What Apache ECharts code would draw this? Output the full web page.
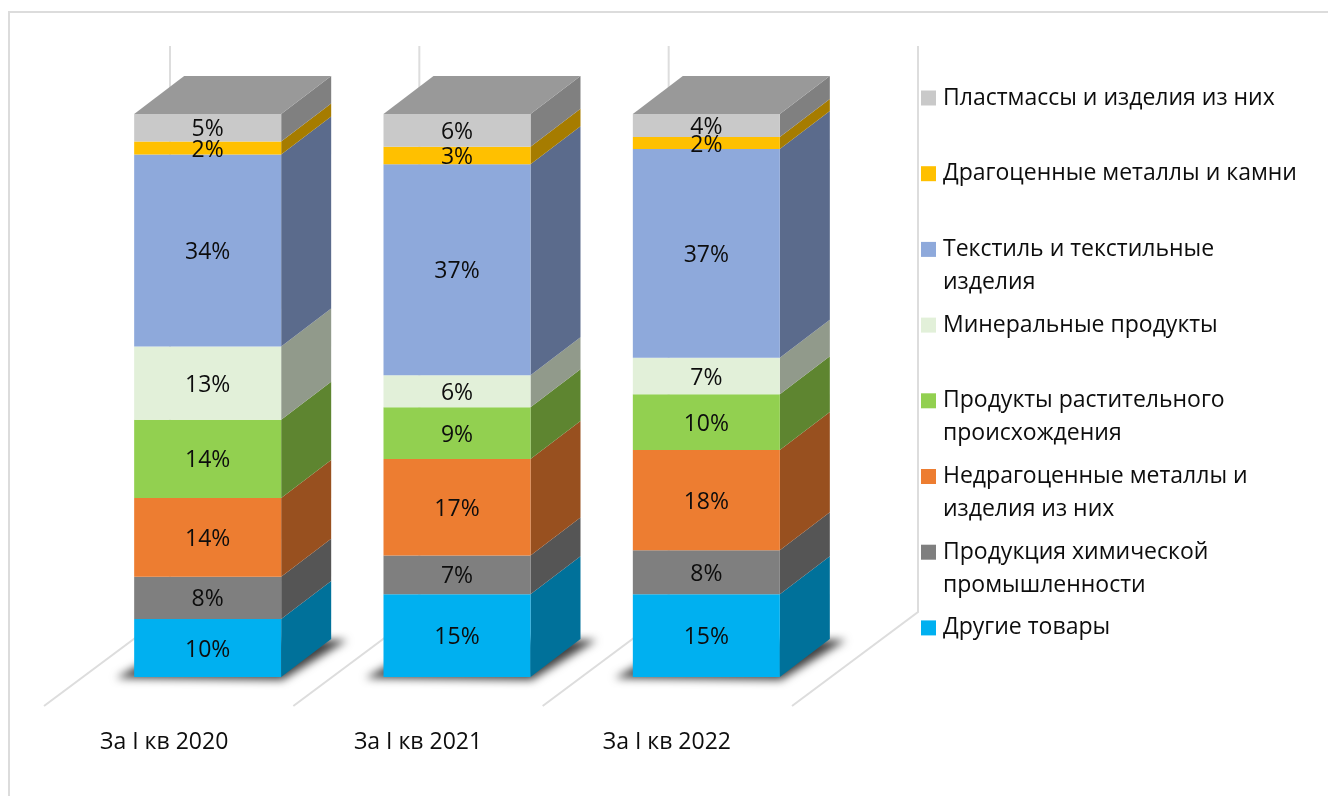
<!DOCTYPE html>
<html><head><meta charset="utf-8">
<style>html,body{margin:0;padding:0;background:#fff}#c{width:1328px;height:796px}</style>
<script src="https://cdn.jsdelivr.net/npm/echarts@6/dist/echarts.min.js"></script></head>
<body><div id="c"></div>
<script>
const categories = ['За I кв 2020', 'За I кв 2021', 'За I кв 2022'];
const other     = [10.3, 14.7, 14.7];
const chemical  = [7.5, 6.9, 7.8];
const metals    = [14.0, 17.1, 17.8];
const plants    = [13.9, 9.2, 9.9];
const minerals  = [13.0, 5.7, 6.5];
const textile   = [34.1, 37.49, 37.1];
const precious  = [2.3, 3.1, 2.1];
const plastics  = [4.9, 5.81, 4.1];

const names = ['Другие товары', 'Продукция химической\nпромышленности', 'Недрагоценные металлы и\nизделия из них',
  'Продукты растительного\nпроисхождения', 'Минеральные продукты', 'Текстиль и текстильные\nизделия',
  'Драгоценные металлы и камни', 'Пластмассы и изделия из них'];
const values = [other, chemical, metals, plants, minerals, textile, precious, plastics];
const colors = ['#00B0F0', '#7F7F7F', '#ED7D31', '#92D050', '#E2F0D9', '#8EA9DB', '#FFC000', '#C9C9C9'];
const sideColors = ['#00719A', '#555555', '#98501F', '#5E8530', '#919A8B', '#5B6B8C', '#A67C00', '#808080'];
const topColor = '#999999';

const FONT = '"Open Sans", "Noto Sans", sans-serif';
const FS = 23;
const BAR_W = 147, DX = 50, DY = -38;          // box front width and depth
const WALL_DX = 87, WALL_DY = -65, FLOOR_DX = -39, FLOOR_DY = 29; // floor and back wall
const WALL_H = 566, OFF = 3000;
const LINE = '#DDDDDD';

function px(api, i, v) { return api.coord([i, v]); }

function wallItem(params, api) {
  const i = api.value(0), band = api.size([1, 0])[0];
  const base = px(api, i, 0);
  const children = [];
  const edges = i === categories.length - 1 ? [0, 1] : [0];
  edges.forEach(function (e) {
    const x = base[0] - band / 2 + e * band, y = base[1];
    children.push({ type: 'polyline', shape: { points: [
      [x + FLOOR_DX, y + FLOOR_DY], [x + WALL_DX, y + WALL_DY], [x + WALL_DX, y + WALL_DY - WALL_H]] },
      style: { stroke: LINE, lineWidth: 2, fill: null } });
  });
  return { type: 'group', children: children };
}

function shadowItem(params, api) {
  const c = px(api, api.value(0), 0);
  const x0 = c[0] - BAR_W / 2, x1 = x0 + BAR_W, y = c[1];
  // only the blurred shadow of this shape lands on the chart
  return { type: 'polygon', shape: { points: [
      [x0 - 18 - OFF, y + 1], [x1 + 1 - OFF, y + 3], [x1 + DX + 16 - OFF, y + DY + 1], [x0 + DX - OFF, y + DY + 1]] },
    style: { fill: '#000', shadowBlur: 8, shadowColor: 'rgba(0,0,0,0.75)', shadowOffsetX: OFF } };
}

function segmentItem(s) {
  return function (params, api) {
    const i = api.value(0);
    const a = px(api, i, api.value(1)), b = px(api, i, api.value(2));
    const x0 = a[0] - BAR_W / 2, x1 = x0 + BAR_W, yb = a[1], yt = b[1];
    const children = [
      { type: 'polygon', shape: { points: [[x1, yt], [x1 + DX, yt + DY], [x1 + DX, yb + DY], [x1, yb]] },
        style: { fill: sideColors[s] } },
      { type: 'rect', shape: { x: x0, y: yt, width: BAR_W, height: yb - yt }, style: { fill: colors[s] } }
    ];
    if (s === names.length - 1) {
      children.push({ type: 'polygon', shape: { points: [[x0, yt], [x0 + DX, yt + DY], [x1 + DX, yt + DY], [x1, yt]] },
        style: { fill: topColor } });
    }
    children.push({ type: 'text', z2: 10, style: {
      x: a[0], y: (yt + yb) / 2 + 2, text: Math.round(api.value(3)) + '%', fill: '#0d0d0d',
      font: FS + 'px ' + FONT, align: 'center', verticalAlign: 'middle' } });
    return { type: 'group', children: children };
  };
}

const catIdx = categories.map(function (_, i) { return [i, 0]; });
const series = [
  { type: 'custom', name: 'wall', silent: true, renderItem: wallItem, data: catIdx, encode: { x: 0, y: 1 }, z: 1 },
  { type: 'custom', name: 'shadow', silent: true, renderItem: shadowItem, data: catIdx, encode: { x: 0, y: 1 }, z: 2 }
];
const cum = categories.map(function () { return 0; });
names.forEach(function (n, s) {
  const data = values[s].map(function (v, i) { const st = cum[i]; cum[i] += v; return [i, st, cum[i], v]; });
  series.push({ type: 'custom', name: n, renderItem: segmentItem(s), data: data, silent: true,
    itemStyle: { color: colors[s] }, encode: { x: 0, y: [1, 2] }, z: 3 });
});

const LEG_FIRST = 98, LEG_STEP = 75.7, LEG_LH = 33;
const legends = names.slice().reverse().map(function (n, k) {
  const multi = n.indexOf('\n') >= 0;
  const h = multi ? LEG_LH * 3 : LEG_LH;
  return { show: true, left: 921, top: LEG_FIRST + k * LEG_STEP - h / 2, padding: 0, selectedMode: false,
    icon: 'path://M0 0H1V1H0Z', itemWidth: 19, itemHeight: 15, itemGap: 0,
    // a leading blank line keeps the key level with the first line of a two-line name
    formatter: function (name) { return multi ? '\n' + name : name; },
    textStyle: { lineHeight: LEG_LH, fontSize: FS, fontFamily: FONT, color: '#0d0d0d' },
    data: [{ name: n }] };
});

const labelShift = [87, 78, 79];
const chart = echarts.init(document.getElementById('c'), null, { renderer: 'canvas' });
chart.setOption({
  animation: false, backgroundColor: '#fff',
  graphic: [{ type: 'polyline', silent: true, shape: { points: [[9, 800], [9, 12], [1330, 12]] },
    style: { stroke: '#DCDCDC', lineWidth: 2, fill: null } }],
  grid: { left: 83, width: 748, top: 114, height: 563 },
  xAxis: { type: 'category', data: categories.map(function (c, i) {
      return { value: c, textStyle: { padding: [0, labelShift[i], 0, 0] } }; }),
    axisLine: { show: false }, axisTick: { show: false },
    axisLabel: { fontSize: FS, fontFamily: FONT, color: '#0d0d0d', margin: 54, interval: 0 } },
  yAxis: { type: 'value', min: 0, max: 100, show: false },
  legend: legends,
  series: series
});
</script></body></html>
